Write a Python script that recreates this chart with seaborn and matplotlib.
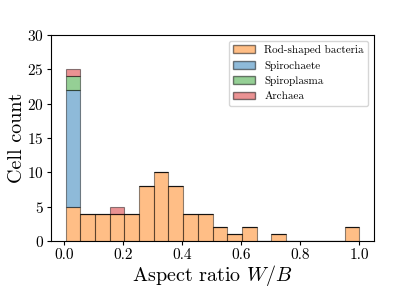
import numpy as np
import pandas as pd
import matplotlib
matplotlib.use("Agg")
import matplotlib.pyplot as plt
from matplotlib.patches import Patch
import seaborn as sns

plt.rcParams["font.family"] = ["cmr10", "DejaVu Serif"]
plt.rcParams["mathtext.fontset"] = "cm"
plt.rcParams["axes.unicode_minus"] = False
plt.rcParams["axes.formatter.use_mathtext"] = True

# Data: counts per bin (20 bins from 0.005 to 1.0)
bin_edges = list(np.linspace(0.005, 1.0, 21))
categories = ["Rod-shaped bacteria", "Spirochaete", "Spiroplasma", "Archaea"]
rod_counts = [5, 4, 4, 4, 4, 8, 10, 8, 4, 4, 2, 1, 2, 0, 1, 0, 0, 0, 0, 2]
spirochaete_counts = [17, 0, 0, 0, 0, 0, 0, 0, 0, 0, 0, 0, 0, 0, 0, 0, 0, 0, 0, 0]
spiroplasma_counts = [2, 0, 0, 0, 0, 0, 0, 0, 0, 0, 0, 0, 0, 0, 0, 0, 0, 0, 0, 0]
archaea_counts = [1, 0, 0, 1, 0, 0, 0, 0, 0, 0, 0, 0, 0, 0, 0, 0, 0, 0, 0, 0]
colors = ["#ff7f0e", "#1f77b4", "#2ca02c", "#d62728"]

centers = [0.5 * (a + b) for a, b in zip(bin_edges[:-1], bin_edges[1:])]
rows = []
for cat, counts in zip(categories, [rod_counts, spirochaete_counts,
                                    spiroplasma_counts, archaea_counts]):
    for c, n in zip(centers, counts):
        rows.append({"x": c, "w": n, "cat": cat})
df = pd.DataFrame(rows)

fig = plt.figure(figsize=(4.15, 2.97), dpi=100)
ax = fig.add_axes([51 / 415, 1 - 241 / 297, (374 - 51) / 415, (241 - 35) / 297])

# seaborn stacks the last hue level at the bottom
hue_order = categories[::-1]
palette = dict(zip(categories, colors))
sns.histplot(data=df, x="x", weights="w", hue="cat", hue_order=hue_order,
             bins=bin_edges, multiple="stack", palette=palette, alpha=0.5,
             edgecolor=(0, 0, 0, 0.45), linewidth=0.8, ax=ax, legend=False)

ax.set_ylim(0, 30)
ax.set_xticks([0.0, 0.2, 0.4, 0.6, 0.8, 1.0])
ax.set_yticks([0, 5, 10, 15, 20, 25, 30])
ax.set_xticklabels(["0.0", "0.2", "0.4", "0.6", "0.8", "1.0"])
ax.tick_params(labelsize=11, length=2.6, pad=2.5, width=0.8)
for s in ax.spines.values():
    s.set_linewidth(0.8)
ax.set_xlabel(r"Aspect ratio $W/B$", fontsize=14.5, labelpad=1)
ax.set_ylabel("Cell count", fontsize=14.5, labelpad=1)

handles = [Patch(facecolor=c, edgecolor=(0, 0, 0, 0.45), alpha=0.5, label=l)
           for l, c in zip(categories, colors)]
ax.legend(handles=handles, loc="upper right", fontsize=8)

fig.savefig("out.png", dpi=100)
